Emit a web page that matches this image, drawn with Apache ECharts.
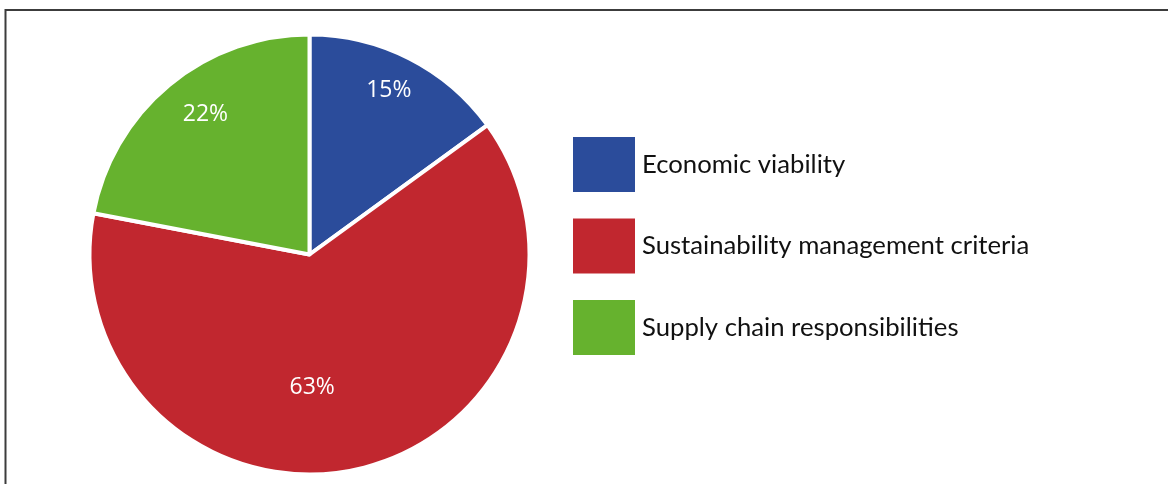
<!DOCTYPE html>
<html>
<head>
<meta charset="utf-8">
<script src="https://cdn.jsdelivr.net/npm/echarts@6/dist/echarts.min.js"></script>
<style>
  html, body { margin: 0; padding: 0; background: #ffffff; }
  #chart { width: 1168px; height: 484px; }
</style>
</head>
<body>
<div id="chart"></div>
<script>
// Share of criteria groups (percent)
const categories = ['Economic viability', 'Sustainability management criteria', 'Supply chain responsibilities'];
const shares = [15, 63, 22];
const colors = ['#2b4c9b', '#c1272f', '#66b22e'];
// nudges that move each percentage label toward where it sits in the slice
const labelOffsets = [[28, -63], [-22, 23], [-32, -53]];

const chart = echarts.init(document.getElementById('chart'), null, { renderer: 'canvas' });

const data = categories.map((name, i) => ({
  name: name,
  value: shares[i],
  itemStyle: { color: colors[i] },
  label: { offset: labelOffsets[i] }
}));

chart.setOption({
  animation: false,
  backgroundColor: '#ffffff',
  graphic: [{
    type: 'rect',
    shape: { x: 5.5, y: 10, width: 1400, height: 700 },
    style: { fill: 'none', stroke: '#3c3c3c', lineWidth: 2 },
    silent: true
  }],
  legend: {
    orient: 'vertical',
    left: 571,
    top: 135,
    padding: 0,
    itemWidth: 64,
    itemHeight: 57,
    itemGap: 22.5,
    icon: 'rect',
    selectedMode: false,
    data: categories,
    textStyle: {
      color: '#111111',
      fontFamily: 'Lato',
      fontSize: 25.7,
      padding: [0, 0, 0, 1]
    }
  },
  series: [{
    type: 'pie',
    center: [309.5, 254.5],
    radius: 220,
    startAngle: 90,
    clockwise: true,
    avoidLabelOverlap: false,
    itemStyle: { borderColor: '#ffffff', borderWidth: 4 },
    label: {
      show: true,
      position: 'inside',
      formatter: '{c}%',
      color: '#ffffff',
      fontFamily: 'Open Sans',
      fontSize: 23
    },
    labelLine: { show: false },
    emphasis: { disabled: true },
    data: data
  }]
});
</script>
</body>
</html>
